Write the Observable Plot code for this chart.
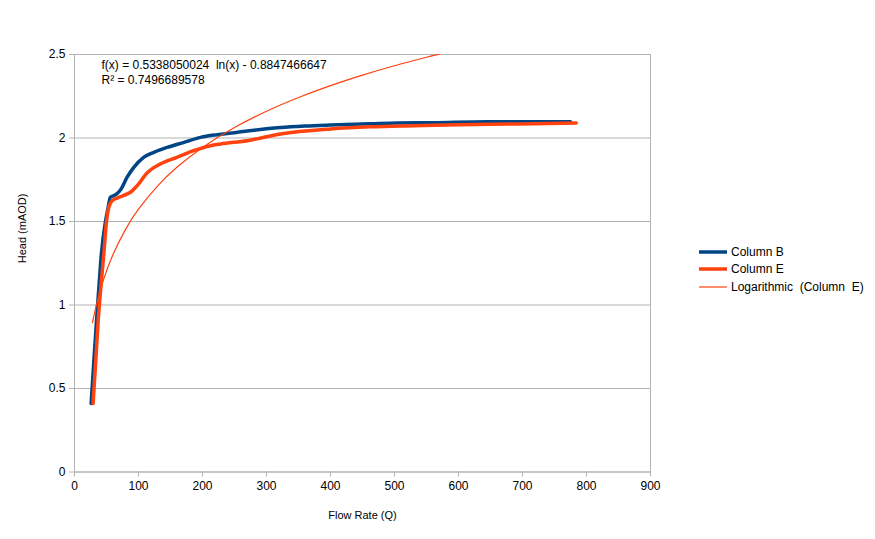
<!DOCTYPE html>
<html>
<head>
<meta charset="utf-8">
<script src="https://cdn.jsdelivr.net/npm/d3@7"></script>
<script src="https://cdn.jsdelivr.net/npm/@observablehq/plot@0.6"></script>
<style>
  body { margin: 0; background: #fff; }
  #wrap { position: relative; width: 875px; height: 539px; font-family: "Liberation Sans", Arial, sans-serif; }
  #legend { position: absolute; left: 699px; top: 243px; font-size: 12px; color: #000; }
  .row { display: flex; align-items: center; height: 17.5px; }
  .sw { width: 28px; margin-right: 4px; }
</style>
</head>
<body>
<div id="wrap"></div>
<script>
// Column B
const bX = [26, 30, 34.4, 38, 42, 48.4, 52.6, 56, 61.5, 66, 72, 82, 92.7, 108, 124, 145, 171, 197, 223, 250, 270, 300, 322, 360, 400, 462, 504, 560, 645, 700, 775];
const bY = [0.41, 0.65, 0.907, 1.1, 1.306, 1.5, 1.585, 1.645, 1.655, 1.665, 1.69, 1.764, 1.824, 1.884, 1.914, 1.944, 1.974, 2.004, 2.02, 2.032, 2.042, 2.055, 2.063, 2.072, 2.078, 2.085, 2.09, 2.092, 2.098, 2.098, 2.098];
// Column E
const eX = [29, 33, 37, 41, 45.8, 50, 53.6, 59, 66.7, 76, 87.5, 98, 114, 134, 160, 186, 212.5, 228, 270, 322, 400, 462, 530, 600, 686, 784];
const eY = [0.41, 0.65, 0.907, 1.1, 1.306, 1.5, 1.585, 1.625, 1.64, 1.655, 1.675, 1.715, 1.794, 1.844, 1.884, 1.924, 1.954, 1.964, 1.984, 2.024, 2.054, 2.067, 2.074, 2.08, 2.084, 2.09];
// Logarithmic trend (Column E), values of f(x) = 0.5338050024 ln(x) - 0.8847466647
const tX = [28, 35, 45, 60, 80, 100, 130, 160, 200, 250, 300, 350, 400, 450, 500, 550, 600, 700, 783];
const tY = [0.894, 1.0131, 1.1473, 1.3008, 1.4544, 1.5735, 1.7136, 1.8244, 1.9435, 2.0627, 2.16, 2.2423, 2.3136, 2.3764, 2.4327, 2.4836, 2.53, 2.6123, 2.6721];

const xTicks = [0, 100, 200, 300, 400, 500, 600, 700, 800, 900];
const yTicks = [0, 0.5, 1, 1.5, 2, 2.5];
const equation = ["f(x) = 0.5338050024  ln(x) - 0.8847466647", "R² = 0.7496689578"];
const seriesNames = ["Column B", "Column E", "Logarithmic  (Column  E)"];
const xTitle = "Flow Rate (Q)";
const yTitle = "Head (mAOD)";

const colB = "#004586", colE = "#ff420e", grid = "#b3b3b3";

const B = bX.map((x, i) => ({x, y: bY[i]}));
const E = eX.map((x, i) => ({x, y: eY[i]}));
const T = tX.map((x, i) => ({x, y: tY[i]}));

const chart = Plot.plot({
  width: 875,
  height: 539,
  marginLeft: 74,
  marginRight: 225,
  marginTop: 54,
  marginBottom: 67.5,
  style: {fontFamily: "'Liberation Sans', Arial, sans-serif", fontSize: "12px", background: "#fff"},
  x: {domain: [0, 900]},
  y: {domain: [0, 2.5]},
  marks: [
    Plot.gridY(yTicks, {stroke: grid, strokeOpacity: 1}),
    Plot.frame({stroke: grid}),
    Plot.axisX(xTicks, {tickSize: 5, tickPadding: 4, stroke: grid, fill: "#000", label: null, tickFormat: d => String(d)}),
    Plot.axisY(yTicks, {tickSize: 5, tickPadding: 4, stroke: grid, fill: "#000", label: null, tickFormat: d => String(d)}),
    Plot.line(B, {x: "x", y: "y", stroke: colB, strokeWidth: 3.5, curve: "monotone-x"}),
    Plot.line(E, {x: "x", y: "y", stroke: colE, strokeWidth: 3.5, curve: "monotone-x"}),
    Plot.line(T, {x: "x", y: "y", stroke: colE, strokeWidth: 1.2, curve: "natural", clip: true}),
    Plot.text([equation.join("\n")], {frameAnchor: "top-left", dx: 27, dy: 5, lineAnchor: "top", lineHeight: 1.17, textAnchor: "start", fill: "#000", fontSize: 12}),
    Plot.text([xTitle], {frameAnchor: "bottom", dy: 47, fill: "#000", fontSize: 11}),
    Plot.text([yTitle], {frameAnchor: "left", dx: -52, rotate: -90, fill: "#000", fontSize: 11})
  ]
});

const wrap = document.getElementById("wrap");
wrap.appendChild(chart);

const legend = document.createElement("div");
legend.id = "legend";
const widths = [3.5, 3.5, 1.2];
const cols = [colB, colE, colE];
seriesNames.forEach((name, i) => {
  const row = document.createElement("div");
  row.className = "row";
  row.innerHTML = `<svg class="sw" width="28" height="8"><line x1="0" x2="28" y1="4" y2="4" stroke="${cols[i]}" stroke-width="${widths[i]}"/></svg><span style="white-space:pre">${name}</span>`;
  legend.appendChild(row);
});
wrap.appendChild(legend);
</script>
</body>
</html>
